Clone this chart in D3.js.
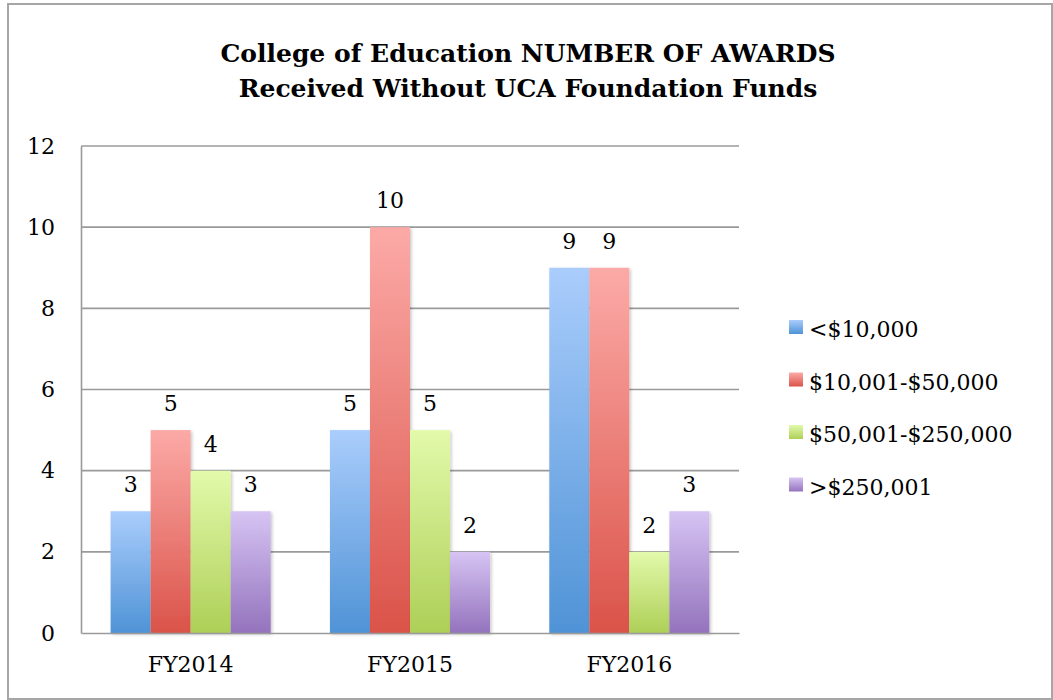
<!DOCTYPE html>
<html>
<head>
<meta charset="utf-8">
<script src="https://cdn.jsdelivr.net/npm/d3@7"></script>
<style>
  body { margin: 0; background: #fff; }
  svg text { font-family: "DejaVu Serif", serif; fill: #000; }
</style>
</head>
<body>
<div id="chart"></div>
<script>
// chart data
var categories = ["FY2014", "FY2015", "FY2016"];
var seriesNames = ["<$10,000", "$10,001-$50,000", "$50,001-$250,000", ">$250,001"];
var under10k = [3, 5, 9];
var from10kTo50k = [5, 10, 9];
var from50kTo250k = [4, 5, 2];
var over250k = [3, 2, 3];
var yTicks = [0, 2, 4, 6, 8, 10, 12];
var titleLines = ["College of Education NUMBER OF AWARDS", "Received Without UCA Foundation Funds"];

var seriesValues = [under10k, from10kTo50k, from50kTo250k, over250k];
// gradient top / bottom colours per series
var topColors = ["#aacdfc", "#fcaaa7", "#e2faab", "#d6c4f3"];
var botColors = ["#4f93d6", "#da5349", "#aecf57", "#9473bd"];

var width = 1053, height = 700;
var plotLeft = 81, plotRight = 739, plotTop = 146, plotBottom = 633;
var fontSize = "22px";

var svg = d3.select("#chart").append("svg")
  .attr("width", width)
  .attr("height", height);

var defs = svg.append("defs");
seriesNames.forEach(function(s, i) {
  var g = defs.append("linearGradient")
    .attr("id", "grad" + i)
    .attr("x1", 0).attr("y1", 0).attr("x2", 0).attr("y2", 1);
  g.append("stop").attr("offset", "0%").attr("stop-color", topColors[i]);
  g.append("stop").attr("offset", "100%").attr("stop-color", botColors[i]);
});
var shadow = defs.append("filter").attr("id", "shadow")
  .attr("x", "-20%").attr("y", "-5%").attr("width", "150%").attr("height", "115%");
shadow.append("feDropShadow")
  .attr("dx", 1.5).attr("dy", 1.5).attr("stdDeviation", 1.5)
  .attr("flood-color", "#000").attr("flood-opacity", 0.22);

// outer border
svg.append("rect")
  .attr("x", 8).attr("y", 4)
  .attr("width", 1044).attr("height", 695)
  .attr("fill", "#fff")
  .attr("stroke", "#a6a6a6")
  .attr("stroke-width", 2);

// title
var title = svg.append("text")
  .attr("text-anchor", "middle")
  .style("font-weight", "bold")
  .style("font-size", "25px");
title.append("tspan").attr("x", 528).attr("y", 62).text(titleLines[0]);
title.append("tspan").attr("x", 528).attr("y", 97).text(titleLines[1]);

// scales
var x0 = d3.scaleBand().domain(categories).range([plotLeft, plotRight]);
var x1 = d3.scaleBand().domain(d3.range(seriesNames.length))
  .range([0, x0.bandwidth()]).paddingOuter(0.74);
var y = d3.scaleLinear().domain([0, 12]).range([plotBottom, plotTop]);

// gridlines
svg.append("g").selectAll("line")
  .data(yTicks.filter(function(d) { return d > 0; }))
  .enter().append("line")
  .attr("x1", plotLeft).attr("x2", plotRight)
  .attr("y1", function(d) { return y(d); })
  .attr("y2", function(d) { return y(d); })
  .attr("stroke", "#9a9a9a")
  .attr("stroke-width", 1.6);

// y axis
var yAxis = d3.axisLeft(y).tickValues(yTicks).tickSize(0).tickPadding(26);
var yG = svg.append("g")
  .attr("transform", "translate(" + plotLeft + ",0)")
  .call(yAxis);
yG.select(".domain").attr("stroke", "#9a9a9a").attr("stroke-width", 1.6);
yG.selectAll("text").style("font-size", fontSize).style("font-family", "DejaVu Serif");

// bars
var groups = svg.append("g").selectAll("g")
  .data(categories)
  .enter().append("g")
  .attr("transform", function(d) { return "translate(" + x0(d) + ",0)"; });

groups.selectAll("rect")
  .data(function(d, ci) {
    return seriesValues.map(function(vals, si) { return { s: si, v: vals[ci] }; });
  })
  .enter().append("rect")
  .attr("x", function(d) { return x1(d.s); })
  .attr("width", x1.bandwidth())
  .attr("y", function(d) { return y(d.v); })
  .attr("height", function(d) { return y(0) - y(d.v); })
  .attr("fill", function(d) { return "url(#grad" + d.s + ")"; })
  .attr("filter", "url(#shadow)");

// value labels
groups.selectAll("text.val")
  .data(function(d, ci) {
    return seriesValues.map(function(vals, si) { return { s: si, v: vals[ci] }; });
  })
  .enter().append("text")
  .attr("class", "val")
  .attr("text-anchor", "middle")
  .attr("x", function(d) { return x1(d.s) + x1.bandwidth() / 2; })
  .attr("y", function(d) { return y(d.v) - 19; })
  .style("font-size", fontSize)
  .text(function(d) { return d.v; });

// x axis
var xAxis = d3.axisBottom(x0).tickSize(0).tickPadding(23);
var xG = svg.append("g")
  .attr("transform", "translate(0," + plotBottom + ")")
  .call(xAxis);
xG.select(".domain").attr("stroke", "#9a9a9a").attr("stroke-width", 1.6);
xG.selectAll("text").style("font-size", fontSize).style("font-family", "DejaVu Serif");

// legend
var legend = svg.append("g").selectAll("g")
  .data(seriesNames)
  .enter().append("g")
  .attr("transform", function(d, i) { return "translate(789," + (320 + i * 52.5) + ")"; });
legend.append("rect")
  .attr("width", 14).attr("height", 14)
  .attr("fill", function(d, i) { return "url(#grad" + i + ")"; });
legend.append("text")
  .attr("x", 20).attr("y", 17)
  .style("font-size", fontSize)
  .text(function(d) { return d; });
</script>
</body>
</html>
